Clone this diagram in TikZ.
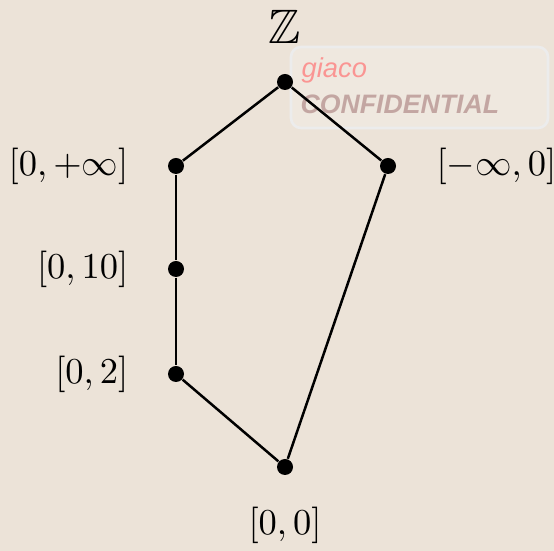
\documentclass[tikz,border=0pt]{standalone}
\usepackage{amssymb}
\usepackage{fontspec}
\newfontfamily\stampfont{Liberation Sans}
\definecolor{paper}{RGB}{236,227,216}
\begin{document}
\begin{tikzpicture}[x=0.3pt,y=-0.3pt,
  dotnode/.style={circle,fill=black,inner sep=0pt,minimum size=4.8pt},
  lbl/.style={inner sep=0pt,font=\fontsize{10.5}{12}\selectfont},
  edge/.style={line width=0.75pt,black}]
\fill[paper] (0,0) rectangle (554,551);
\useasboundingbox (0,0) rectangle (554,551);
% stamp
\draw[rounded corners=3pt,draw=white!85!gray,line width=0.8pt,fill=white,fill opacity=0.2] (291,47) rectangle (548,128);
\node[anchor=west,inner sep=0pt,text=red!55!white,opacity=0.7,font=\stampfont\itshape\fontsize{8.2}{9}\selectfont] (giaco) at (301,70) {giaco};
\node[anchor=west,inner sep=0pt,text=gray!80!red,opacity=0.5,font=\stampfont\bfseries\itshape\fontsize{8}{9}\selectfont] (conf) at (300,104) {CONFIDENTIAL};
% nodes
\node[dotnode] (top) at (285,82) {};
\node[dotnode] (pinf) at (176,166) {};
\node[dotnode] (minf) at (388,166) {};
\node[dotnode] (ten) at (176,269) {};
\node[dotnode] (two) at (176,374) {};
\node[dotnode] (zero) at (285,467) {};
% labels
\node[lbl,font=\fontsize{14.5}{16}\selectfont] (ltop) at (285,27) {$\mathbb{Z}$};
\node[lbl,anchor=east] (lpinf) at (129,166) {$[0,+\infty]$};
\node[lbl,anchor=west] (lminf) at (436,166) {$[-\infty,0]$};
\node[lbl,anchor=east] (lten) at (129,269) {$[0,10]$};
\node[lbl,anchor=east] (ltwo) at (129,374) {$[0,2]$};
\node[lbl] (lzero) at (285,525) {$[0,0]$};
% edges
\draw[edge] (top) -- (pinf);
\draw[edge] (top) -- (minf);
\draw[edge] (pinf) -- (ten);
\draw[edge] (ten) -- (two);
\draw[edge] (two) -- (zero);
\draw[edge] (minf) -- (zero);
\end{tikzpicture}
\end{document}
